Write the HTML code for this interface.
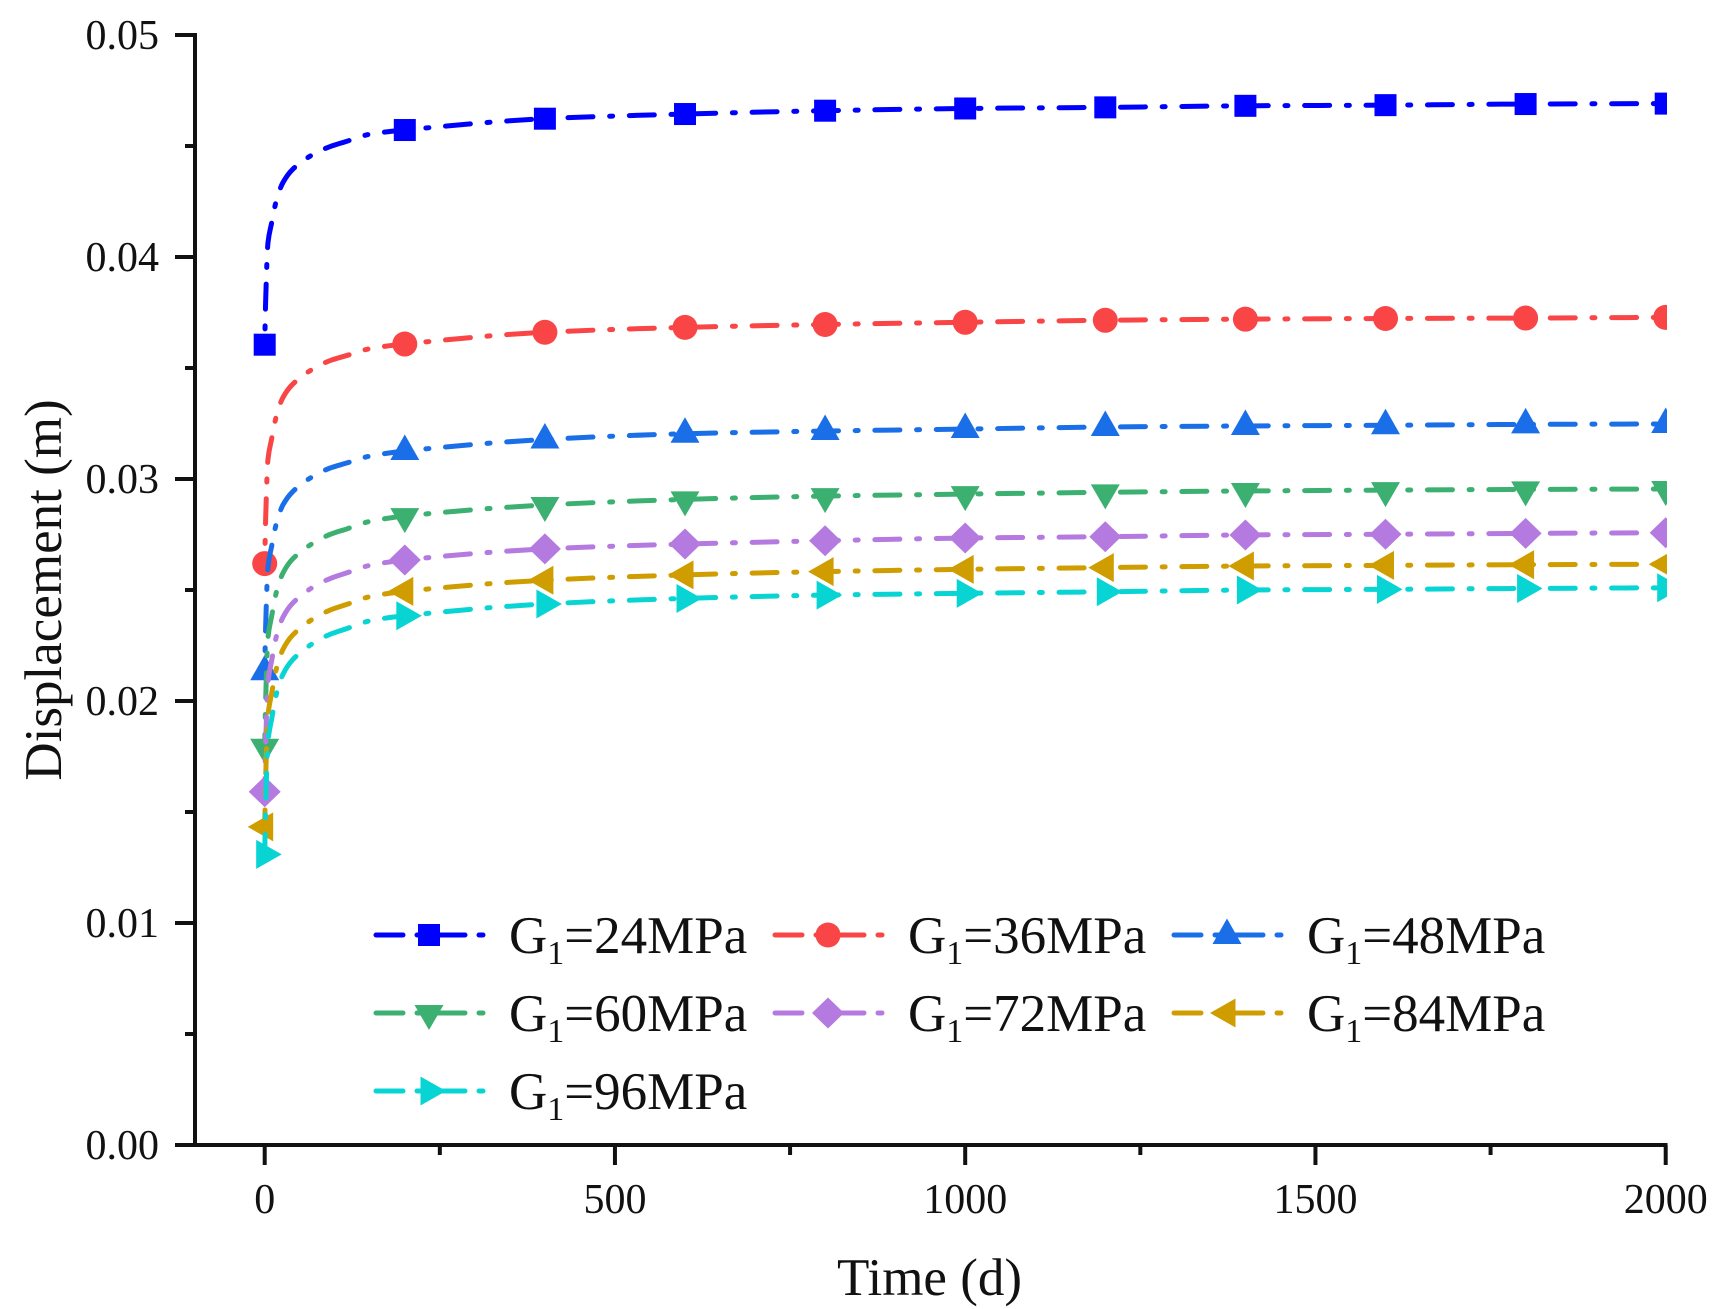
<!DOCTYPE html>
<html lang="en">
<head>
<meta charset="utf-8">
<title>Displacement vs Time</title>
<style>
  html, body { margin: 0; padding: 0; background: #ffffff; }
  svg { display: block; }
  text { font-family: "Liberation Serif", serif; fill: #111111; }
</style>
</head>
<body>
<svg id="chart" xmlns="http://www.w3.org/2000/svg" width="1719" height="1309" viewBox="0 0 1719 1309">
  <defs>
    <clipPath id="plot-clip"><rect x="150" y="0" width="1517" height="1309"></rect></clipPath>
  </defs>
  <rect x="0" y="0" width="1719" height="1309" fill="#ffffff"></rect>
  <g id="series-layer" clip-path="url(#plot-clip)"></g>
  <g id="axes-layer"></g>
  <g id="legend-layer"></g>
  <text x="929.5" y="1295" font-size="53" text-anchor="middle">Time (d)</text>
  <text x="61" y="590" font-size="53" text-anchor="middle" transform="rotate(-90 61 590)">Displacement (m)</text>
</svg>
<script>
const times = [0, 1.4, 4.7, 10, 17, 26, 40, 69, 93, 117, 150, 200, 400, 600, 800, 1000, 1200, 1400, 1600, 1800, 2000];
const markerTimes = [0, 200, 400, 600, 800, 1000, 1200, 1400, 1600, 1800, 2000];
const seriesLabels = ['24', '36', '48', '60', '72', '84', '96'];
const seriesColors = ['#0000ff', '#f94545', '#1a6fe8', '#3cb070', '#b57adf', '#cf9d00', '#08d4d4'];
const seriesShapes = ['square', 'circle', 'up', 'down', 'diamond', 'left', 'right'];

const valuesG24 = [0.03605, 0.03807, 0.04065, 0.04155, 0.04259, 0.04335, 0.04395, 0.04462, 0.04497, 0.04521, 0.04553, 0.04572, 0.04623, 0.04644, 0.04659, 0.04669, 0.04674, 0.04681, 0.04684, 0.04689, 0.04691];
const valuesG36 = [0.02619, 0.02826, 0.0309, 0.03182, 0.03288, 0.03367, 0.03427, 0.03496, 0.03533, 0.03556, 0.03587, 0.03608, 0.03661, 0.03683, 0.03696, 0.03706, 0.03715, 0.0372, 0.03723, 0.03725, 0.03728];
const valuesG48 = [0.02134, 0.02341, 0.02605, 0.02698, 0.02804, 0.02883, 0.02943, 0.03012, 0.03049, 0.03072, 0.03103, 0.03126, 0.03178, 0.03204, 0.03216, 0.03225, 0.03234, 0.03239, 0.03242, 0.03246, 0.03248];
const valuesG60 = [0.01794, 0.0201, 0.02286, 0.02383, 0.02494, 0.02576, 0.0264, 0.02711, 0.0275, 0.02775, 0.02809, 0.02833, 0.02883, 0.02908, 0.02923, 0.02932, 0.0294, 0.02946, 0.0295, 0.02953, 0.02955];
const valuesG72 = [0.01591, 0.01808, 0.02086, 0.02183, 0.02295, 0.02377, 0.02441, 0.02513, 0.02551, 0.02577, 0.02611, 0.02635, 0.02685, 0.02707, 0.02722, 0.02734, 0.0274, 0.02748, 0.02751, 0.02755, 0.02758];
const valuesG84 = [0.01433, 0.01655, 0.01937, 0.02035, 0.02149, 0.02232, 0.02297, 0.0237, 0.02409, 0.02435, 0.0247, 0.02494, 0.02544, 0.02568, 0.02583, 0.02593, 0.02601, 0.02608, 0.02611, 0.02614, 0.02616];
const valuesG96 = [0.01309, 0.01533, 0.01819, 0.0192, 0.02035, 0.0212, 0.02186, 0.0226, 0.023, 0.02326, 0.02361, 0.02384, 0.02437, 0.02462, 0.02477, 0.02485, 0.02492, 0.025, 0.02503, 0.02507, 0.0251];
const seriesValues = [valuesG24, valuesG36, valuesG48, valuesG60, valuesG72, valuesG84, valuesG96];

const xMajorTicks = [0, 500, 1000, 1500, 2000];
const xMinorTicks = [250, 750, 1250, 1750];
const yMajorTicks = [0, 0.01, 0.02, 0.03, 0.04, 0.05];
const yMinorTicks = [0.005, 0.015, 0.025, 0.035, 0.045];
const yTickLabels = ['0.00', '0.01', '0.02', '0.03', '0.04', '0.05'];
const xTickLabels = ['0', '500', '1000', '1500', '2000'];

const SVG_NS = 'http://www.w3.org/2000/svg';
const xAt = t => 264.7 + t * 0.7005;
const yAt = v => 1145 - v * 22200;
const DASH_PERIOD = 61.4;

function el(tag, parent) {
  const node = document.createElementNS(SVG_NS, tag);
  parent.appendChild(node);
  return node;
}

function smoothPath(px, py) {
  const n = px.length;
  const d = [], m = [];
  for (let i = 0; i < n - 1; i++) d.push((py[i + 1] - py[i]) / (px[i + 1] - px[i]));
  m.push(d[0]);
  for (let i = 1; i < n - 1; i++) m.push(d[i - 1] * d[i] <= 0 ? 0 : 2 * d[i - 1] * d[i] / (d[i - 1] + d[i]));
  m.push(d[n - 2]);
  let s = 'M' + px[0].toFixed(2) + ' ' + py[0].toFixed(2);
  for (let i = 0; i < n - 1; i++) {
    const h = (px[i + 1] - px[i]) / 3;
    s += 'C' + (px[i] + h).toFixed(2) + ' ' + (py[i] + m[i] * h).toFixed(2) + ' ' +
      (px[i + 1] - h).toFixed(2) + ' ' + (py[i + 1] - m[i + 1] * h).toFixed(2) + ' ' +
      px[i + 1].toFixed(2) + ' ' + py[i + 1].toFixed(2);
  }
  return s;
}

function lengthAtX(path, targetX) {
  let lo = 0, hi = path.getTotalLength();
  for (let i = 0; i < 30; i++) {
    const mid = (lo + hi) / 2;
    if (path.getPointAtLength(mid).x < targetX) lo = mid; else hi = mid;
  }
  return lo;
}

function drawMarker(parent, shape, x, y, color) {
  let node;
  if (shape === 'square') {
    node = el('rect', parent);
    node.setAttribute('x', x - 11);
    node.setAttribute('y', y - 11);
    node.setAttribute('width', 22);
    node.setAttribute('height', 22);
  } else if (shape === 'circle') {
    node = el('circle', parent);
    node.setAttribute('cx', x);
    node.setAttribute('cy', y);
    node.setAttribute('r', 12.5);
  } else {
    node = el('polygon', parent);
    let pts;
    if (shape === 'up') pts = [[x, y - 16.5], [x - 14.5, y + 9], [x + 14.5, y + 9]];
    if (shape === 'down') pts = [[x, y + 17], [x - 14.5, y - 8], [x + 14.5, y - 8]];
    if (shape === 'left') pts = [[x - 17, y], [x + 8.5, y - 14.5], [x + 8.5, y + 14.5]];
    if (shape === 'right') pts = [[x + 17, y], [x - 8.5, y - 14.5], [x - 8.5, y + 14.5]];
    if (shape === 'diamond') pts = [[x, y - 15.5], [x + 16, y], [x, y + 15.5], [x - 16, y]];
    node.setAttribute('points', pts.map(p => p[0].toFixed(2) + ',' + p[1].toFixed(2)).join(' '));
  }
  node.setAttribute('fill', color);
  return node;
}

const seriesLayer = document.getElementById('series-layer');
seriesValues.forEach((values, s) => {
  const group = el('g', seriesLayer);
  
  
  const line = el('path', group);
  
  
  line.setAttribute('d', smoothPath(times.map(xAt), values.map(yAt)));
  line.setAttribute('fill', 'none');
  line.setAttribute('stroke', seriesColors[s]);
  line.setAttribute('stroke-width', '5');
  line.setAttribute('stroke-linecap', 'round');
  line.setAttribute('stroke-dasharray', '25 16.7 3 16.7');
  const anchor = lengthAtX(line, 1550.2);
  line.setAttribute('stroke-dashoffset', (DASH_PERIOD - (anchor % DASH_PERIOD)).toFixed(2));
  markerTimes.forEach(t => {
    const v = values[times.indexOf(t)];
    const mark = drawMarker(group, seriesShapes[s], xAt(t), yAt(v), seriesColors[s]);
    
    
  });
});

const axes = document.getElementById('axes-layer');
function axisLine(x1, y1, x2, y2, name) {
  const l = el('line', axes);
  l.setAttribute('x1', x1);
  l.setAttribute('y1', y1);
  l.setAttribute('x2', x2);
  l.setAttribute('y2', y2);
  l.setAttribute('stroke', '#111111');
  l.setAttribute('stroke-width', '4');
  
  
}
axisLine(195, 33, 195, 1147, 'y-axis-line');
axisLine(175, 1145, 1667.5, 1145, 'x-axis-line');
yMajorTicks.forEach((v, i) => {
  axisLine(175, yAt(v), 195, yAt(v), 'y-major-tick');
  const label = el('text', axes);
  label.setAttribute('x', 159);
  label.setAttribute('y', yAt(v) + 14);
  label.setAttribute('font-size', '42');
  label.setAttribute('text-anchor', 'end');
  
  
  label.textContent = yTickLabels[i];
});
yMinorTicks.forEach(v => axisLine(185, yAt(v), 195, yAt(v), 'y-minor-tick'));
xMajorTicks.forEach((t, i) => {
  axisLine(xAt(t), 1145, xAt(t), 1165, 'x-major-tick');
  const label = el('text', axes);
  label.setAttribute('x', xAt(t));
  label.setAttribute('y', 1213);
  label.setAttribute('font-size', '42');
  label.setAttribute('text-anchor', 'middle');
  
  
  label.textContent = xTickLabels[i];
});
xMinorTicks.forEach(t => axisLine(xAt(t), 1145, xAt(t), 1155, 'x-minor-tick'));

const legend = document.getElementById('legend-layer');
seriesLabels.forEach((lab, i) => {
  const col = i % 3;
  const row = Math.floor(i / 3);
  const ox = 374 + col * 399;
  const oy = 935 + row * 78;
  const entry = el('g', legend);
  
  
  const sample = el('line', entry);
  sample.setAttribute('x1', ox + 2);
  sample.setAttribute('y1', oy);
  sample.setAttribute('x2', ox + 110);
  sample.setAttribute('y2', oy);
  sample.setAttribute('stroke', seriesColors[i]);
  sample.setAttribute('stroke-width', '5');
  sample.setAttribute('stroke-linecap', 'round');
  sample.setAttribute('stroke-dasharray', '27 14 48 14 4 60');
  
  
  const mark = drawMarker(entry, seriesShapes[i], ox + 55, oy, seriesColors[i]);
  
  
  const text = el('text', entry);
  text.setAttribute('x', ox + 135);
  text.setAttribute('y', oy + 18);
  text.setAttribute('font-size', '53');
  
  
  const a = el('tspan', text);
  a.textContent = 'G';
  const b = el('tspan', text);
  b.setAttribute('font-size', '34');
  b.setAttribute('dy', '11');
  b.textContent = '1';
  const c = el('tspan', text);
  c.setAttribute('dy', '-11');
  c.textContent = '=' + lab + 'MPa';
});
</script>
</body>
</html>
